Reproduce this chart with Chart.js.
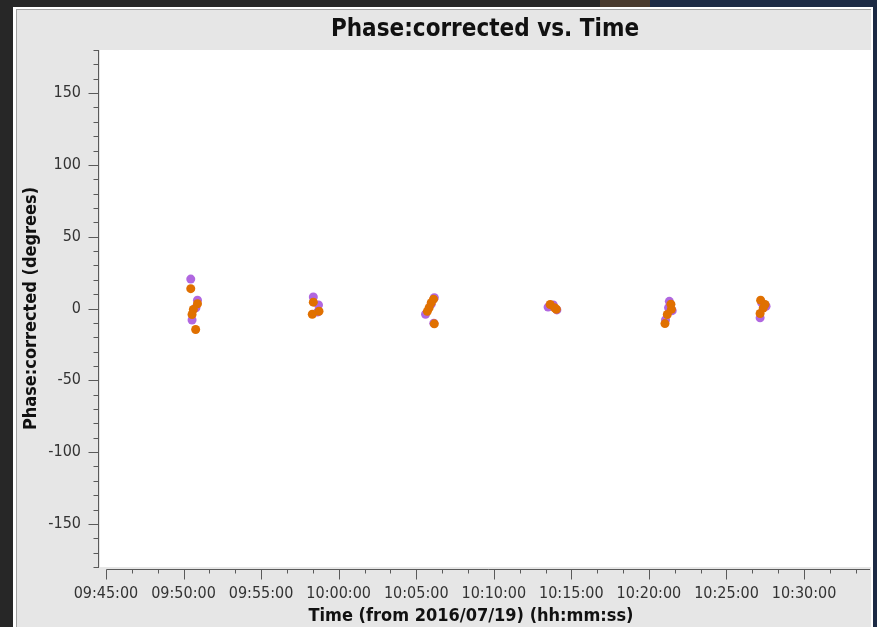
<!DOCTYPE html>
<html>
<head>
<meta charset="utf-8">
<title>Phase:corrected vs. Time</title>
<script src="https://cdn.jsdelivr.net/npm/chart.js@4.4.1/dist/chart.umd.min.js"></script>
<style>
  html, body { margin: 0; padding: 0; background: #272727; overflow: hidden; }
  #wrap { width: 877px; height: 627px; position: relative; }
  canvas { display: block; }
</style>
</head>
<body>
<div id="wrap"><canvas id="c" width="877" height="627"></canvas></div>
<script>
// Phase of the corrected data for two correlations, sampled on six scans.
const purpleTimes = ['09:50:28', '09:50:54', '09:50:48', '09:50:33',
                     '09:58:22', '09:58:42', '09:58:38',
                     '10:06:10', '10:05:58', '10:05:36', '10:06:08',
                     '10:13:30', '10:13:50', '10:14:04',
                     '10:21:19', '10:21:16', '10:21:04', '10:21:30',
                     '10:27:16', '10:27:33', '10:27:10'];
const purplePhase = [20.5, 5.8, 0.5, -8.0,
                     8.0, 2.5, -2.5,
                     7.5, 3.0, -4.0, -10.2,
                     1.0, 2.5, -1.0,
                     5.0, 0.5, -8.0, -1.5,
                     4.0, 1.6, -6.5];

const orangeTimes = ['09:50:28', '09:50:54', '09:50:38', '09:50:33', '09:50:47',
                     '09:58:22', '09:58:44', '09:58:18',
                     '10:06:07', '10:05:58', '10:05:50', '10:05:43', '10:06:10',
                     '10:13:38', '10:13:55', '10:14:02',
                     '10:21:25', '10:21:27', '10:21:11', '10:21:02',
                     '10:27:12', '10:27:29', '10:27:22', '10:27:10'];
const orangePhase = [13.8, 3.3, -0.7, -4.2, -14.6,
                     4.4, -1.9, -4.0,
                     6.5, 4.0, 0.5, -2.0, -10.7,
                     2.8, 0.5, -0.5,
                     3.0, -0.5, -4.2, -10.5,
                     5.8, 2.8, 0.3, -3.5];

// Axis tick labels
const xTickLabels = ['09:45:00', '09:50:00', '09:55:00', '10:00:00', '10:05:00',
                     '10:10:00', '10:15:00', '10:20:00', '10:25:00', '10:30:00'];
const yTickValues = [-150, -100, -50, 0, 50, 100, 150];

const TITLE = 'Phase:corrected vs. Time';
const X_TITLE = 'Time (from 2016/07/19) (hh:mm:ss)';
const Y_TITLE = 'Phase:corrected (degrees)';

const PURPLE = '#b067e0';
const ORANGE = '#e07000';
const FONT = "'DejaVu Sans Condensed', 'DejaVu Sans', sans-serif";

function toSec(t) {
  const [h, m, s] = t.split(':').map(Number);
  return h * 3600 + m * 60 + s;
}
function fmtTime(v) {
  const s = Math.round(v);
  const p = n => String(n).padStart(2, '0');
  return p(Math.floor(s / 3600)) + ':' + p(Math.floor(s / 60) % 60) + ':' + p(s % 60);
}
const points = (times, vals) => times.map((t, i) => ({ x: toSec(t), y: vals[i] }));

const X_MIN = toSec('09:44:37');
const X_MAX = toSec('10:34:15');
const Y_MIN = -180, Y_MAX = 180;
const xMajor = xTickLabels.map(toSec);

// Window frame, title band and white plot canvas behind the chart
const frame = {
  id: 'frame',
  beforeDraw(chart) {
    const { ctx, chartArea: a, width, height } = chart;
    ctx.save();
    ctx.fillStyle = '#272727';
    ctx.fillRect(0, 0, width, height);
    ctx.fillStyle = '#4a3b2e';
    ctx.fillRect(600, 0, 60, 7);
    ctx.fillStyle = '#1c2a44';
    ctx.fillRect(650, 0, width - 650, 7);
    ctx.fillRect(873, 0, 4, height);
    ctx.fillStyle = '#ffffff';
    ctx.fillRect(13, 7, 860, height - 7);
    ctx.fillStyle = '#a3a3a3';
    ctx.fillRect(16, 9, 855, 1);
    ctx.fillRect(16, 9, 1, height - 9);
    ctx.fillStyle = '#e6e6e6';
    ctx.fillRect(17, 10, 854, height - 10);
    ctx.fillStyle = '#ffffff';
    ctx.fillRect(a.left, a.top, a.right - a.left + 1, a.bottom - a.top);
    ctx.restore();
  }
};

// Axis backbones, major/minor ticks and titles
const axesAndTitles = {
  id: 'axesAndTitles',
  afterDraw(chart) {
    const { ctx, chartArea: a, scales: { x, y } } = chart;
    ctx.save();
    ctx.strokeStyle = '#5a5a5a';
    ctx.lineWidth = 1;
    const seg = (x1, y1, x2, y2) => { ctx.beginPath(); ctx.moveTo(x1, y1); ctx.lineTo(x2, y2); ctx.stroke(); };

    // y axis
    const yx = a.left - 1.5;
    seg(yx, a.top, yx, a.bottom + 1);
    for (let v = Y_MIN; v <= Y_MAX; v += 10) {
      const py = Math.round(y.getPixelForValue(v)) + 0.5;
      const len = (v % 50 === 0 && Math.abs(v) <= 150) ? 10 : 5;
      seg(yx - len, py, yx, py);
    }

    // x axis
    const xy = a.bottom + 2.5;
    const x0 = Math.round(x.getPixelForValue(xMajor[0])) + 0.5;
    seg(x0, xy, a.right, xy);
    for (let v = xMajor[0]; v <= X_MAX; v += 100) {
      const px = Math.round(x.getPixelForValue(v)) + 0.5;
      const len = ((v - xMajor[0]) % 300 === 0) ? 10 : 4;
      seg(px, xy, px, xy + len);
    }

    // titles
    ctx.fillStyle = '#111111';
    ctx.textAlign = 'center';
    ctx.textBaseline = 'alphabetic';
    ctx.font = 'bold 24px ' + FONT;
    ctx.fillText(TITLE, (a.left + a.right) / 2, 36);
    ctx.font = 'bold 18px ' + FONT;
    ctx.fillText(X_TITLE, 471, 621);
    ctx.translate(31, (a.top + a.bottom) / 2);
    ctx.rotate(-Math.PI / 2);
    ctx.textBaseline = 'middle';
    ctx.fillText(Y_TITLE, 0, 0);
    ctx.restore();
  }
};

new Chart(document.getElementById('c'), {
  type: 'scatter',
  data: {
    datasets: [
      { label: 'corr 2', data: points(orangeTimes, orangePhase),
        backgroundColor: ORANGE, borderColor: ORANGE, borderWidth: 0, pointRadius: 4.5 },
      { label: 'corr 1', data: points(purpleTimes, purplePhase),
        backgroundColor: PURPLE, borderColor: PURPLE, borderWidth: 0, pointRadius: 4.5 }
    ]
  },
  options: {
    responsive: false,
    animation: false,
    devicePixelRatio: 1,
    layout: { padding: { top: 50, left: 0, right: 7, bottom: 0 } },
    plugins: { legend: { display: false }, tooltip: { enabled: false }, title: { display: false } },
    scales: {
      x: {
        type: 'linear', min: X_MIN, max: X_MAX,
        grid: { display: false, drawTicks: false },
        border: { display: false },
        afterBuildTicks: s => { s.ticks = xMajor.map(v => ({ value: v })); },
        afterFit: s => { s.height = 60; },
        ticks: {
          autoSkip: false, maxRotation: 0, padding: 17, color: '#333333',
          font: { family: FONT, size: 16 },
          callback: v => fmtTime(v)
        }
      },
      y: {
        type: 'linear', min: Y_MIN, max: Y_MAX,
        grid: { display: false, drawTicks: false },
        border: { display: false },
        afterBuildTicks: s => { s.ticks = yTickValues.map(v => ({ value: v })); },
        afterFit: s => { s.width = 100; },
        ticks: {
          autoSkip: false, padding: 19, color: '#333333',
          font: { family: FONT, size: 16 }
        }
      }
    }
  },
  plugins: [frame, axesAndTitles]
});
</script>
</body>
</html>
